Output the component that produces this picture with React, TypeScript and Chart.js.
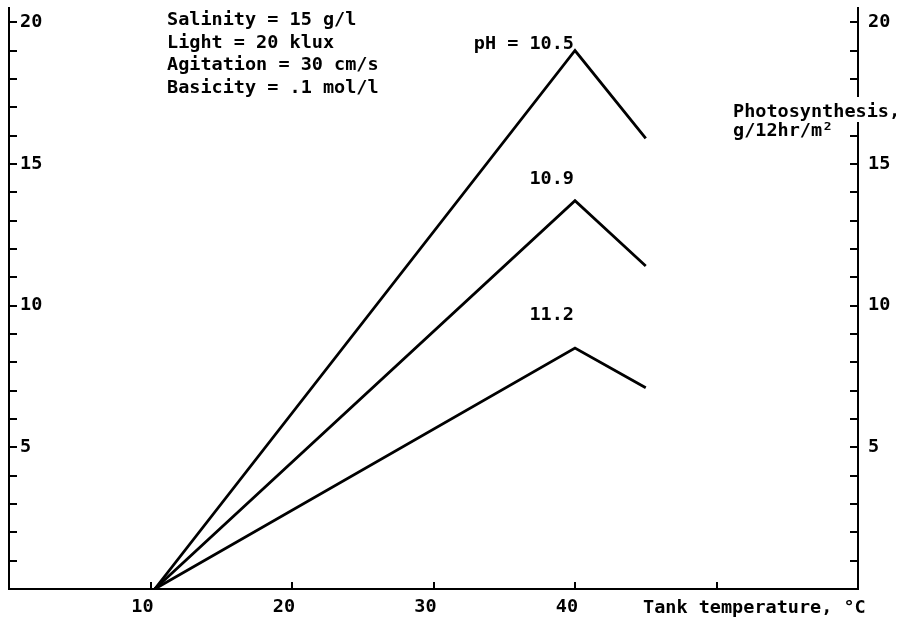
import React, { useEffect, useRef } from "react";
import { Chart, registerables } from "chart.js";

Chart.register(...registerables);

// ---- data ----
const temperatures = [10.3, 40, 45];
const ph105 = [0, 19.0, 15.9];
const ph109 = [0, 13.7, 11.4];
const ph112 = [0, 8.5, 7.1];
const seriesNames = ["pH = 10.5", "10.9", "11.2"];
const seriesValues = [ph105, ph109, ph112];

const xLabelTicks = [10, 20, 30, 40];
const xMarkTicks = [10, 20, 30, 40, 50];
const yLabelTicks = [5, 10, 15, 20];
const yMarkTicks = [1, 2, 3, 4, 5, 6, 7, 8, 9, 10, 11, 12, 13, 14, 15, 16, 17, 18, 19, 20];

const conditionLines = [
  "Salinity = 15 g/l",
  "Light = 20 klux",
  "Agitation = 30 cm/s",
  "Basicity = .1 mol/l",
];
const seriesLabelX = 40;
const seriesLabelY = [19.05, 14.3, 9.5];
const yTitleLines = ["Photosynthesis,", "g/12hr/m\u00B2"];
const xTitle = "Tank temperature, \u00B0C";

// ---- style ----
const FAMILY = "'DejaVu Sans Mono', monospace";
const SIZE = 18.5;
const FONT = `bold ${SIZE}px ${FAMILY}`;
const INK = "#000";

const overlayPlugin = {
  id: "overlay",
  afterDraw(chart: any) {
    const { ctx, chartArea, scales } = chart;
    const xs = scales.x;
    const ys = scales.y;
    ctx.save();
    ctx.strokeStyle = INK;
    ctx.lineWidth = 2;
    ctx.beginPath();
    for (const v of yMarkTicks) {
      const py = Math.round(ys.getPixelForValue(v));
      ctx.moveTo(chartArea.left, py);
      ctx.lineTo(chartArea.left + 8, py);
      ctx.moveTo(chartArea.right - 8, py);
      ctx.lineTo(chartArea.right, py);
    }
    for (const v of xMarkTicks) {
      const px = Math.round(xs.getPixelForValue(v));
      ctx.moveTo(px, chartArea.bottom);
      ctx.lineTo(px, chartArea.bottom - 7);
    }
    ctx.stroke();

    ctx.font = FONT;
    ctx.fillStyle = INK;
    ctx.textBaseline = "alphabetic";
    ctx.textAlign = "left";
    conditionLines.forEach((t, i) => ctx.fillText(t, 167, 25 + i * 22.7));

    ctx.textAlign = "right";
    seriesNames.forEach((t, i) => {
      ctx.fillText(t, xs.getPixelForValue(seriesLabelX) - 1, ys.getPixelForValue(seriesLabelY[i]));
    });

    ctx.textAlign = "left";
    const w0 = ctx.measureText(yTitleLines[0]).width;
    ctx.fillStyle = "#fff";
    ctx.fillRect(733, 97, w0 + 2, 25);
    ctx.fillStyle = INK;
    ctx.fillText(yTitleLines[0], 733, 117);
    ctx.fillText(yTitleLines[1], 733, 136);

    ctx.fillText(xTitle, 643, 613);
    ctx.restore();
  },
};

export default function App() {
  const ref = useRef<HTMLCanvasElement | null>(null);
  useEffect(() => {
    if (!ref.current) return;
    const tickFont = { family: FAMILY, size: SIZE, weight: "bold" as const };
    const chart = new Chart(ref.current, {
      type: "line",
      data: {
        datasets: seriesValues.map((vals, i) => ({
          label: seriesNames[i],
          data: temperatures.map((t, j) => ({ x: t, y: vals[j] })),
          borderColor: INK,
          borderWidth: 2.8,
          pointRadius: 0,
          fill: false,
          tension: 0,
          yAxisID: "y",
        })),
      },
      options: {
        animation: false,
        responsive: false,
        devicePixelRatio: 1,
        layout: { padding: { top: 8, left: 0, right: 0, bottom: 0 } },
        plugins: { legend: { display: false }, tooltip: { enabled: false } },
        scales: {
          x: {
            type: "linear",
            position: "bottom",
            min: 0,
            max: 60,
            grid: { display: false, drawTicks: false },
            border: { display: true, color: INK, width: 2 },
            ticks: { font: tickFont, color: INK, padding: 7, labelOffset: -8, maxRotation: 0 },
            afterBuildTicks: (s: any) => {
              s.ticks = xLabelTicks.map((v) => ({ value: v }));
            },
            afterFit: (s: any) => {
              s.height = 34;
              s.paddingLeft = 0;
              s.paddingRight = 0;
            },
          },
          y: {
            type: "linear",
            position: "left",
            min: 0,
            max: 20.5,
            grid: { display: false, drawTicks: false },
            border: { display: true, color: INK, width: 2 },
            ticks: { font: tickFont, color: INK, mirror: true, padding: 11 },
            afterBuildTicks: (s: any) => {
              s.ticks = yLabelTicks.map((v) => ({ value: v }));
            },
            afterFit: (s: any) => {
              s.width = 9;
              s.paddingTop = 0;
              s.paddingBottom = 0;
            },
          },
          y2: {
            type: "linear",
            position: "right",
            min: 0,
            max: 20.5,
            grid: { display: false, drawTicks: false },
            border: { display: true, color: INK, width: 2 },
            ticks: { font: tickFont, color: INK, padding: 10 },
            afterBuildTicks: (s: any) => {
              s.ticks = yLabelTicks.map((v) => ({ value: v }));
            },
            afterFit: (s: any) => {
              s.width = 44;
              s.paddingTop = 0;
              s.paddingBottom = 0;
            },
          },
        },
      },
      plugins: [overlayPlugin],
    });
    return () => chart.destroy();
  }, []);
  return (
    <div style={{ position: "fixed", left: 0, top: 0, width: 902, height: 623, background: "#fff" }}>
      <canvas ref={ref} width={902} height={623} style={{ display: "block" }} />
    </div>
  );
}
